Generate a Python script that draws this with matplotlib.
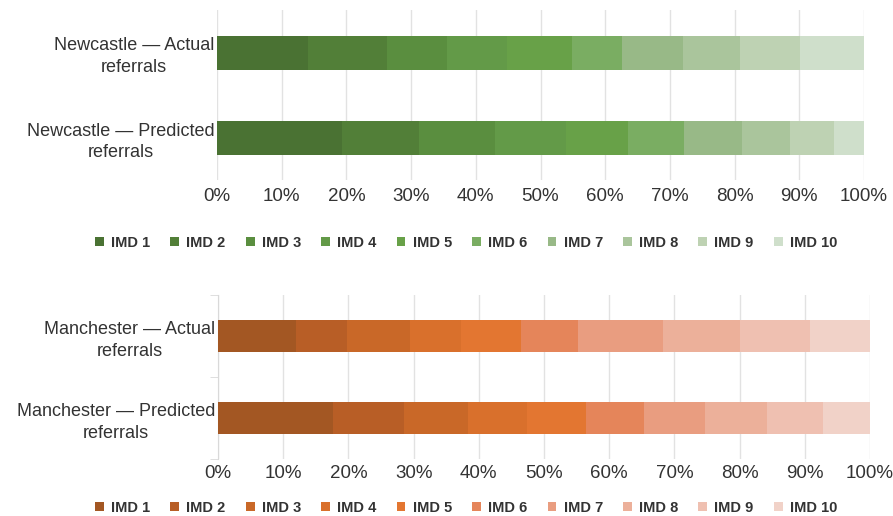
import matplotlib.pyplot as plt
from matplotlib.patches import Patch
from matplotlib.ticker import PercentFormatter

plt.rcParams['font.family'] = ['Liberation Sans', 'DejaVu Sans']

imd_labels = ['IMD 1', 'IMD 2', 'IMD 3', 'IMD 4', 'IMD 5', 'IMD 6', 'IMD 7', 'IMD 8', 'IMD 9', 'IMD 10']

newcastle_rows = ['Newcastle \u2014 Actual\nreferrals', 'Newcastle \u2014 Predicted\nreferrals']
newcastle_actual = [14.0, 12.2, 9.4, 9.2, 10.1, 7.7, 9.4, 8.8, 9.3, 9.9]
newcastle_predicted = [19.3, 11.9, 11.8, 10.9, 9.6, 8.7, 9.0, 7.4, 6.7, 4.7]

manchester_rows = ['Manchester \u2014 Actual\nreferrals', 'Manchester \u2014 Predicted\nreferrals']
manchester_actual = [11.9, 7.9, 9.7, 7.8, 9.2, 8.7, 13.1, 11.7, 10.8, 9.2]
manchester_predicted = [17.7, 10.9, 9.7, 9.1, 9.1, 8.8, 9.4, 9.5, 8.6, 7.2]

greens = ['#4a7233', '#527f38', '#5a8e3f', '#639a48', '#68a148',
          '#7aad62', '#98b987', '#aac59c', '#bed2b3', '#cfdfcb']
oranges = ['#a35723', '#b85e26', '#c96828', '#d9702c', '#e37631',
           '#e5855a', '#e99d80', '#ecb09a', '#efc0b1', '#f1d2c8']

text_col = '#333333'
grid_col = '#e2e2e2'

fig = plt.figure(figsize=(8.93, 5.16), dpi=100)


def draw_panel(ax, rows, actual, predicted, colours, tick_pad, show_spine):
    data = [actual, predicted]
    for r in range(len(rows)):
        left = 0
        for k in range(len(imd_labels)):
            ax.barh(r, data[r][k], left=left, height=0.4, color=colours[k], zorder=3)
            left += data[r][k]
    ax.set_xlim(0, 100)
    ax.set_ylim(1.5, -0.5)
    ax.set_xticks(range(0, 101, 10))
    ax.xaxis.set_major_formatter(PercentFormatter(decimals=0))
    ax.set_yticks([0, 1])
    ax.set_yticklabels(rows, multialignment='center', linespacing=1.35)
    ax.tick_params(axis='x', length=0, pad=tick_pad, labelsize=13.5, labelcolor=text_col)
    ax.tick_params(axis='y', length=0, pad=2, labelsize=13, labelcolor=text_col)
    ax.grid(axis='x', color=grid_col, linewidth=1, zorder=0)
    for s in ['top', 'right', 'bottom']:
        ax.spines[s].set_visible(False)
    if show_spine:
        ax.spines['left'].set_color('#d9d9d9')
        ax.set_yticks([-0.5, 0.5, 1.5], minor=True)
        ax.tick_params(axis='y', which='minor', length=6, color='#d9d9d9')
    else:
        ax.spines['left'].set_visible(False)


def draw_legend(colours, y):
    handles = [Patch(facecolor=c, edgecolor='none') for c in colours]
    fig.legend(handles, imd_labels, loc='center', bbox_to_anchor=(0.522, y), ncol=10,
               frameon=False, handlelength=0.6, handleheight=0.6, handletextpad=0.5,
               columnspacing=1.38, prop={'weight': 'bold', 'size': 10.5},
               labelcolor=text_col)


ax1 = fig.add_axes([217 / 893, 1 - 180 / 516, 647 / 893, 170 / 516])
draw_panel(ax1, newcastle_rows, newcastle_actual, newcastle_predicted, greens, 6, False)
draw_legend(greens, 1 - 243 / 516)

ax2 = fig.add_axes([218 / 893, 1 - 459 / 516, 652 / 893, 164 / 516])
draw_panel(ax2, manchester_rows, manchester_actual, manchester_predicted, oranges, 4, True)
draw_legend(oranges, 1 - 508 / 516)

fig.savefig('out.png', dpi=100)
